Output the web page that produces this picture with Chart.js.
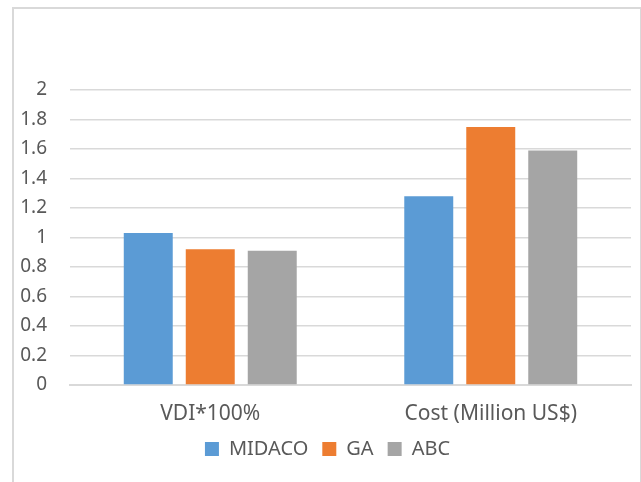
<!DOCTYPE html>
<html>
<head>
<meta charset="utf-8">
<script src="https://cdn.jsdelivr.net/npm/chart.js@4"></script>
<style>
    html, body { margin: 0; padding: 0; background: #fff; }
    body { width: 641px; height: 482px; position: relative; overflow: hidden; }
    .frame {
        position: absolute; left: 12px; top: 7px; width: 626px; height: 490px;
        border: 2px solid #d9d9d9; border-bottom: none;
    }
    .wrap { position: absolute; left: 14px; top: 9px; width: 626px; height: 473px; }
</style>
</head>
<body>
<div class="frame"></div>
<div class="wrap"><canvas id="chart"></canvas></div>
<script>
// categories, series and axis ticks
const categories = ['VDI*100%', 'Cost (Million US$)'];
const seriesNames = ['MIDACO', 'GA', 'ABC'];
const midaco = [1.03, 1.28];
const ga = [0.92, 1.75];
const abc = [0.91, 1.59];
const yTicks = [0, 0.2, 0.4, 0.6, 0.8, 1, 1.2, 1.4, 1.6, 1.8, 2];

const colors = ['#5B9BD5', '#ED7D31', '#A5A5A5'];
const textColor = '#595959';
const fontFamily = "'Noto Sans', 'Open Sans', sans-serif";

const datasets = [midaco, ga, abc].map((vals, i) => ({
    label: seriesNames[i],
    data: vals,
    backgroundColor: colors[i],
    borderWidth: 0,
    categoryPercentage: 0.663,
    barPercentage: 0.79
}));

// legend sits centred on the whole frame, not on the padded box
const legendNudge = {
    id: 'legendNudge',
    afterLayout(chart) {
        const lg = chart.legend;
        if (!lg) return;
        lg.left += 5;
        lg.right += 5;
    }
};

new Chart(document.getElementById('chart'), {
    type: 'bar',
    data: { labels: categories, datasets: datasets },
    plugins: [legendNudge],
    options: {
        responsive: true,
        maintainAspectRatio: false,
        animation: false,
        layout: { padding: { top: 81, right: 9, bottom: 13, left: 0 } },
        plugins: {
            tooltip: { enabled: false },
            legend: {
                position: 'bottom',
                labels: {
                    color: textColor,
                    font: { family: fontFamily, size: 20 },
                    boxWidth: 14,
                    boxHeight: 14,
                    padding: 14
                }
            }
        },
        scales: {
            x: {
                // keep the category labels tight above the legend
                afterFit: axis => { axis.height = 40; },
                grid: { display: false, drawTicks: false },
                border: { color: '#d9d9d9', width: 2 },
                ticks: {
                    color: textColor,
                    font: { family: fontFamily, size: 21, lineHeight: 1 },
                    padding: 19
                }
            },
            y: {
                min: yTicks[0],
                max: yTicks[yTicks.length - 1],
                afterBuildTicks: axis => { axis.ticks = yTicks.map(v => ({ value: v })); },
                afterFit: axis => { axis.width = 56; },
                grid: { color: '#d9d9d9', lineWidth: 1.5, drawTicks: false },
                border: { display: false },
                ticks: {
                    color: textColor,
                    font: { family: fontFamily, size: 19 },
                    padding: 23,
                    callback: v => String(Number(v.toFixed(1)))
                }
            }
        }
    }
});
</script>
</body>
</html>
